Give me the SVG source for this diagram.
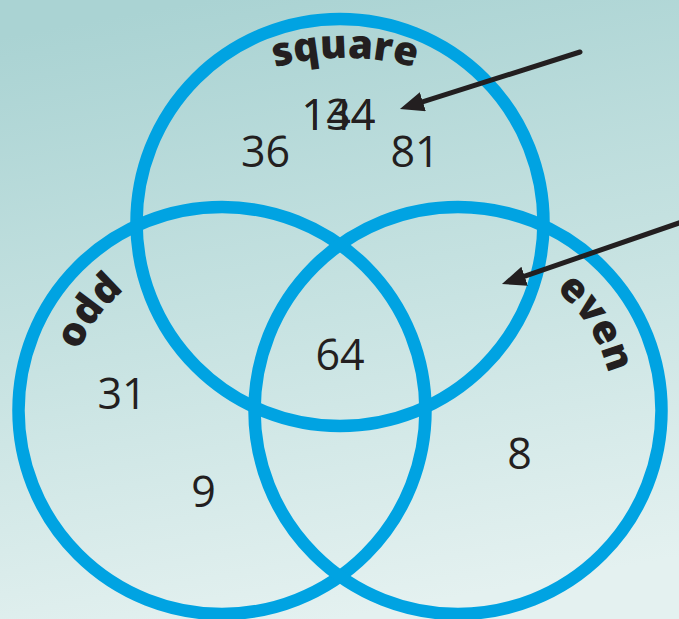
<svg xmlns="http://www.w3.org/2000/svg" width="679" height="619" viewBox="0 0 679 619">
  <defs>
    <linearGradient id="bg" x1="0.3" y1="0" x2="0.5" y2="1">
      <stop offset="0" stop-color="#aad3d3"/>
      <stop offset="0.5" stop-color="#c6e2e1"/>
      <stop offset="1" stop-color="#e4f1f0"/>
    </linearGradient>
    <marker id="head" markerUnits="userSpaceOnUse" markerWidth="24" markerHeight="20" viewBox="0 0 24 20" refX="12" refY="10" orient="auto">
      <path d="M0,0 L24,10 L0,20 z" fill="#231f20"/>
    </marker>
    <path id="arcSquare" d="M215,92.8 A260,260 0 0 1 475,92.8"/>
    <path id="arcOdd" d="M67,410.5 A155,155 0 0 1 195.1,257.9"/>
    <path id="arcEven" d="M484.9,257.9 A155,155 0 0 1 613,410.5"/>
  </defs>
  <style>
    .ring { fill: none; stroke: #00a3e2; stroke-width: 12.5; }
    .num { font-family: "Open Sans", "DejaVu Sans", sans-serif; font-size: 43px; fill: #231f20; text-anchor: middle; }
    .lbl { font-family: "Open Sans", "DejaVu Sans", sans-serif; font-size: 40px; font-weight: 800; fill: #231f20; text-anchor: middle; }
    .arrow { stroke: #231f20; stroke-width: 5; stroke-linecap: round; fill: none; }
  </style>
  <rect x="0" y="0" width="679" height="619" fill="url(#bg)"/>

  <g id="square">
    <circle class="ring" cx="340" cy="222.5" r="203.5"/>
    <text class="lbl"><textPath href="#arcSquare" startOffset="50%">square</textPath></text>
  </g>
  <g id="odd">
    <circle class="ring" cx="222" cy="410.5" r="203.5"/>
    <text class="lbl"><textPath href="#arcOdd" startOffset="46%">odd</textPath></text>
  </g>
  <g id="even">
    <circle class="ring" cx="458" cy="410.5" r="203.5"/>
    <text class="lbl"><textPath href="#arcEven" startOffset="59.6%">even</textPath></text>
  </g>

  <g id="numbers">
    <text class="num" x="338.5" y="130">144</text>
    <text class="num" x="338.5" y="130">134</text>
    <text class="num" x="265.5" y="167">36</text>
    <text class="num" x="415" y="167">81</text>
    <text class="num" x="340" y="370">64</text>
    <text class="num" x="122" y="409">31</text>
    <text class="num" x="203.5" y="507">9</text>
    <text class="num" x="519.5" y="469">8</text>
  </g>

  <g id="connectors">
    <line class="arrow" x1="580" y1="52" x2="411.4" y2="105.4" marker-end="url(#head)"/>
    <line class="arrow" x1="681" y1="222.3" x2="513.3" y2="280.1" marker-end="url(#head)"/>
  </g>
</svg>
